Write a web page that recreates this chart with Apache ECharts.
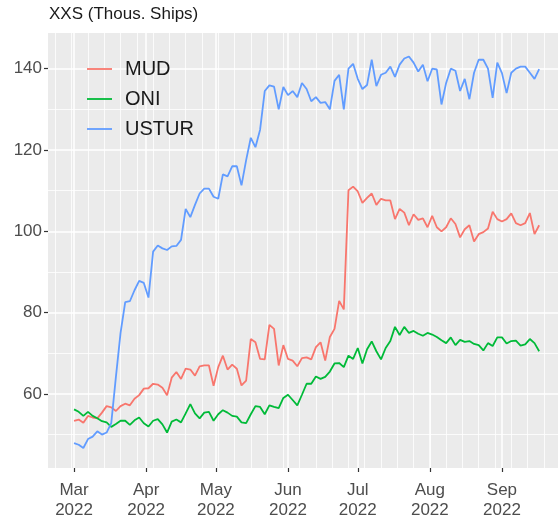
<!DOCTYPE html>
<html>
<head>
<meta charset="utf-8">
<script src="https://cdn.jsdelivr.net/npm/echarts@6/dist/echarts.min.js"></script>
<style>
html, body { margin: 0; padding: 0; background: #fff; }
#myChart { width: 558px; height: 520px; }
</style>
</head>
<body>
<div id="myChart"></div>
<script>
// 数据：从 2022-03-01 开始，每两天一个点
var startDate = [2022, 2, 1];
var dayStep = 2;
var monthLabels = ["Mar", "Apr", "May", "Jun", "Jul", "Aug", "Sep"];
var yearLabel = "2022";
var yTicks = [60, 80, 100, 120, 140];
var yMinorTicks = [50, 70, 90, 110, 130];
var seriesNames = ["MUD", "ONI", "USTUR"];

var mud = [
  53.4, 53.7, 52.9, 54.6, 54.2, 54.0, 55.4, 57.0, 56.7, 55.8,
  57.0, 57.6, 57.2, 58.8, 59.7, 61.3, 61.4, 62.5, 62.3, 61.5,
  59.7, 64.0, 65.4, 63.7, 66.2, 66.0, 64.5, 66.8, 67.0, 67.0,
  62.0, 66.6, 69.4, 66.0, 67.2, 66.2, 62.1, 63.3, 73.5, 72.7,
  68.6, 68.5, 77.0, 76.0, 67.0, 72.0, 68.6, 68.2, 66.8, 68.8,
  69.0, 68.5, 71.5, 72.7, 68.2, 74.0, 76.0, 82.9, 80.8, 110.1,
  111.0, 109.8, 107.0, 108.2, 109.3, 106.5, 108.0, 107.6, 107.6, 103.0,
  105.5, 104.6, 101.5, 104.2, 102.8, 103.2, 101.0, 103.8, 101.0, 100.0,
  101.0, 103.2, 101.8, 98.5, 100.5, 101.5, 97.5, 99.3, 99.8, 100.7,
  104.8, 103.0, 102.4, 103.0, 104.4, 102.0, 101.5, 102.0, 104.5, 99.3,
  101.5
];
var oni = [
  56.2, 55.6, 54.6, 55.6, 54.6, 54.0, 53.3, 53.0, 51.9, 52.6,
  53.4, 53.4, 52.4, 53.5, 54.2, 52.8, 52.0, 53.4, 53.8, 52.5,
  50.5, 53.2, 53.7, 53.0, 55.2, 57.5, 55.2, 54.0, 55.4, 55.6,
  53.4, 55.0, 56.0, 55.4, 54.6, 54.4, 53.0, 52.8, 55.0, 57.0,
  56.8, 55.0, 57.2, 56.8, 56.5, 59.0, 59.8, 58.5, 57.2, 59.8,
  62.5, 62.5, 64.3, 63.7, 64.2, 65.5, 67.5, 67.6, 66.6, 69.4,
  68.6, 71.3, 67.5, 71.0, 72.9, 70.5, 68.5, 71.3, 73.0, 76.5,
  74.5, 76.5, 75.0, 75.5, 74.8, 74.3, 75.0, 74.6, 74.0, 73.2,
  72.5, 73.9, 72.0, 73.3, 72.8, 73.0, 72.3, 72.0, 70.7, 72.5,
  71.8, 73.9, 73.9, 72.4, 73.0, 73.1, 71.9, 72.2, 73.5, 72.5,
  70.5
];
var ustur = [
  47.9, 47.5, 46.7, 48.9, 49.5, 50.8, 50.0, 50.5, 52.8, 64.2,
  75.0, 82.6, 82.8, 85.5, 87.8, 87.3, 83.7, 95.0, 96.5, 95.8,
  95.4, 96.3, 96.4, 97.9, 105.5, 103.5, 106.5, 109.3, 110.5, 110.5,
  108.5, 108.0, 114.0, 113.5, 116.0, 116.0, 111.3, 117.5, 123.0, 120.7,
  125.0, 134.5, 135.9, 135.6, 130.0, 135.5, 133.5, 134.5, 133.0, 136.5,
  135.0, 132.0, 133.0, 131.6, 131.8, 130.0, 137.0, 138.5, 130.0, 140.0,
  141.2, 137.5, 135.0, 136.0, 142.2, 135.7, 138.5, 139.0, 140.5, 138.0,
  141.0, 142.5, 143.0, 141.5, 139.3, 141.0, 136.9, 140.0, 139.8, 131.2,
  136.5, 140.0, 139.5, 134.5, 137.5, 132.5, 139.0, 142.2, 142.2, 140.0,
  132.8, 141.5, 138.9, 134.0, 139.0, 140.0, 140.5, 140.5, 139.0, 137.5,
  139.9
];

var DAY = 86400000;
var t0 = new Date(startDate[0], startDate[1], startDate[2]).getTime();
var dates = mud.map(function (v, i) { return t0 + i * dayStep * DAY; });
function pairs(vals) {
  return vals.map(function (v, i) { return [dates[i], v]; });
}
var monthTicks = monthLabels.map(function (m, i) {
  return new Date(2022, 2 + i, 1).getTime();
});
// 每周一的次网格线
var weekTicks = [];
for (var d = new Date(2022, 1, 21); d <= new Date(2022, 8, 26); d.setDate(d.getDate() + 7)) {
  weekTicks.push(d.getTime());
}
var xMin = t0 - 11.2 * DAY;
var xMax = t0 + 208.1 * DAY;

var font = "Liberation Sans, Arial, sans-serif";
var colors = ["#F8766D", "#00BA38", "#619CFF"];

var myChart = echarts.init(document.getElementById("myChart"));
myChart.setOption({
  animation: false,
  textStyle: { fontFamily: font },
  color: colors,
  title: {
    text: "XXS (Thous. Ships)",
    left: 49,
    top: 6,
    padding: 0,
    textStyle: { fontSize: 17, fontWeight: "normal", color: "#1a1a1a", fontFamily: font }
  },
  legend: {
    data: seriesNames,
    orient: "vertical",
    left: 87,
    top: 57,
    padding: 0,
    icon: "rect",
    itemWidth: 25,
    itemHeight: 1.8,
    itemGap: 6,
    textStyle: { fontSize: 20, lineHeight: 24, color: "#1a1a1a", padding: [0, 0, 0, 8], fontFamily: font }
  },
  grid: {
    left: 48,
    top: 33,
    right: 0,
    bottom: 48.3,
    show: true,
    backgroundColor: "#EBEBEB",
    borderWidth: 0
  },
  xAxis: [
    {
      type: "value",
      min: xMin,
      max: xMax,
      axisLine: { show: false },
      axisTick: { show: true, length: 4, lineStyle: { color: "#333333", width: 1.2 }, customValues: monthTicks },
      axisLabel: {
        customValues: monthTicks,
        formatter: function (v) {
          return monthLabels[new Date(v).getMonth() - 2] + "\n" + yearLabel;
        },
        color: "#4D4D4D",
        fontSize: 17,
        lineHeight: 20,
        margin: 12,
        fontFamily: font
      },
      splitLine: { show: true, lineStyle: { color: "#ffffff", width: 1.5 } }
    },
    {
      type: "value",
      min: xMin,
      max: xMax,
      position: "bottom",
      axisLine: { show: false },
      axisTick: { show: false, customValues: weekTicks },
      axisLabel: { show: false },
      splitLine: { show: true, lineStyle: { color: "#ffffff", width: 0.8 } }
    }
  ],
  yAxis: [
    {
      type: "value",
      min: 41.78,
      max: 148.78,
      axisLine: { show: false },
      axisTick: { show: true, length: 4, lineStyle: { color: "#333333", width: 1.2 }, customValues: yTicks },
      axisLabel: { customValues: yTicks, color: "#4D4D4D", fontSize: 17, margin: 6, fontFamily: font },
      splitLine: { show: true, lineStyle: { color: "#ffffff", width: 1.5 } }
    },
    {
      type: "value",
      min: 41.78,
      max: 148.78,
      position: "left",
      axisLine: { show: false },
      axisTick: { show: false, customValues: yMinorTicks },
      axisLabel: { show: false },
      splitLine: { show: true, lineStyle: { color: "#ffffff", width: 0.8 } }
    }
  ],
  series: [
    { name: "MUD", type: "line", data: pairs(mud), showSymbol: false, lineStyle: { width: 1.8 } },
    { name: "ONI", type: "line", data: pairs(oni), showSymbol: false, lineStyle: { width: 1.8 } },
    { name: "USTUR", type: "line", data: pairs(ustur), showSymbol: false, lineStyle: { width: 1.8 } }
  ]
});
window.addEventListener("resize", function () {
  myChart.resize();
});
</script>
</body>
</html>
